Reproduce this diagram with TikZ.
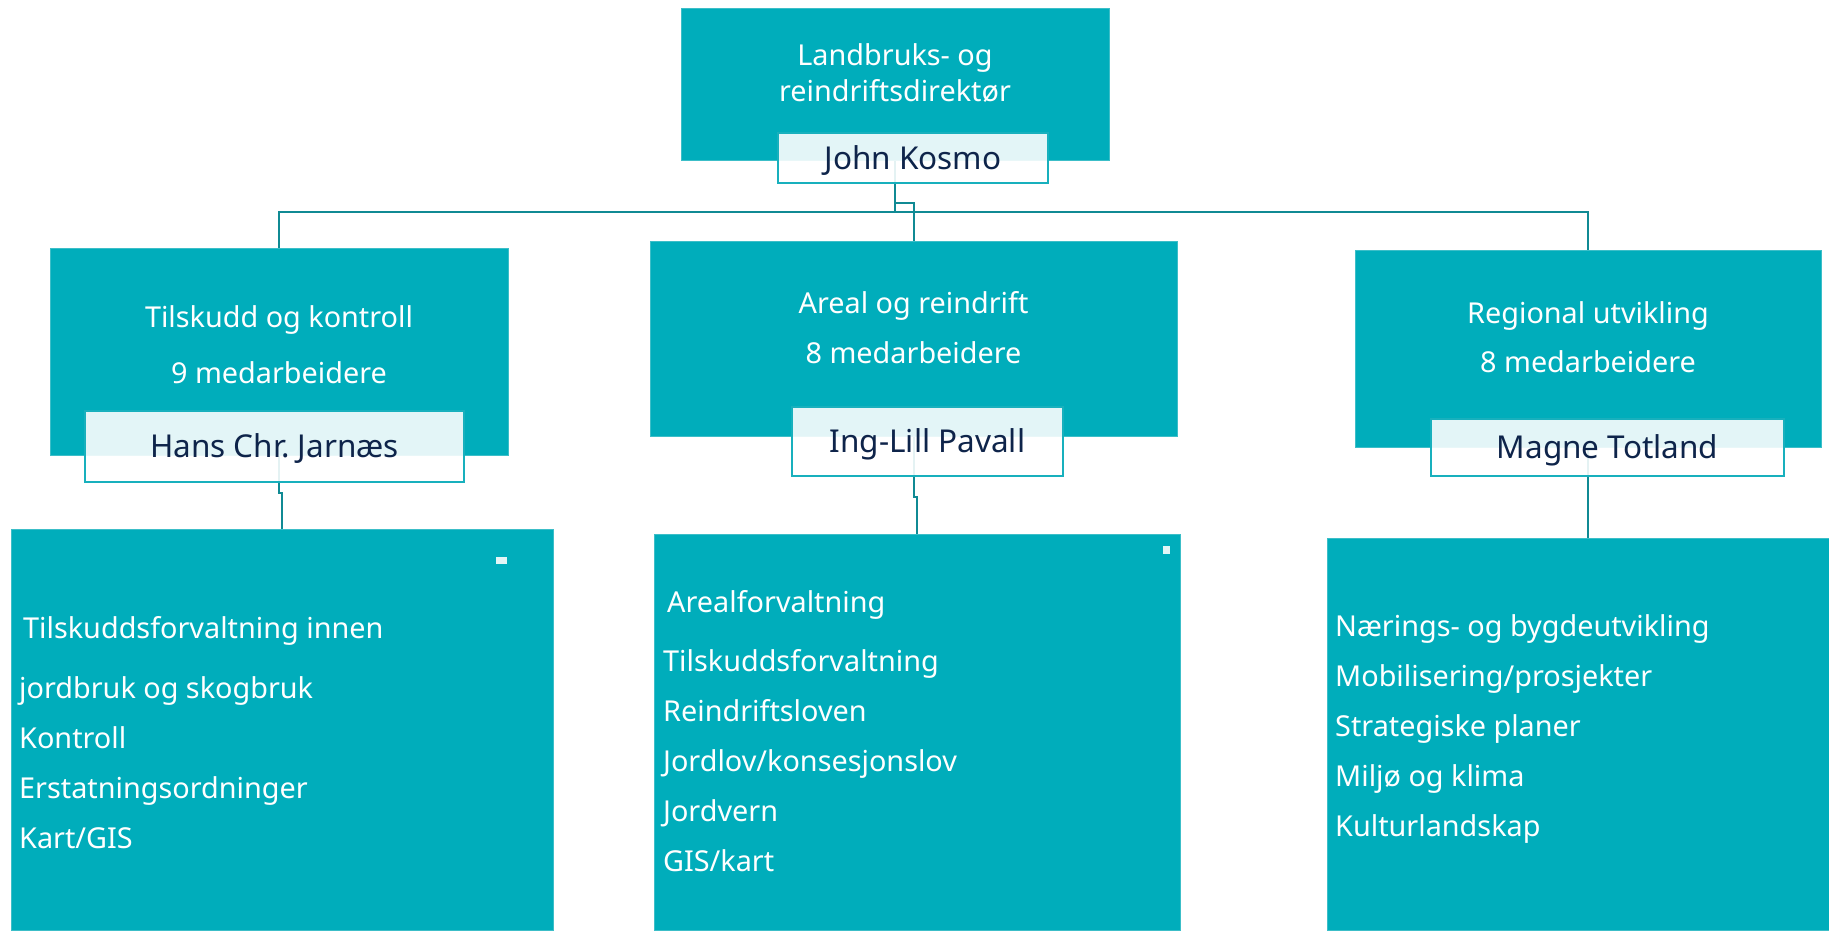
\documentclass[tikz,border=0pt]{standalone}
\usepackage{fontspec}
\setmainfont{Noto Sans}
\definecolor{boxteal}{RGB}{0, 173, 187}
\definecolor{edgeteal}{RGB}{60, 190, 200}
\definecolor{linkteal}{RGB}{16, 138, 148}
\definecolor{nameedge}{RGB}{24, 176, 189}
\definecolor{namenavy}{RGB}{14, 36, 74}
\definecolor{paleteal}{RGB}{227, 245, 246}
\usetikzlibrary{positioning, calc}

\begin{document}
\begin{tikzpicture}[x=1pt, y=-1pt,
  unit/.style={draw=edgeteal, line width=1pt, fill=boxteal, inner sep=0pt},
  title/.style={text=white, align=center, inner sep=0pt, anchor=base, font=\fontsize{28.8}{50}\selectfont},
  namebox/.style={draw=nameedge, line width=2pt, fill=white, fill opacity=0.89, text opacity=1, text=namenavy,
    inner sep=0pt, text height=22pt, text depth=0pt, font=\fontsize{31.5}{36}\selectfont},
  item/.style={text=white, align=left, inner sep=0pt, anchor=base west, font=\fontsize{28.8}{50}\selectfont},
  link/.style={draw=linkteal, line width=2pt}]
  \useasboundingbox (0, 0) rectangle (1829, 930);

  % Director (text nodes sit on their last baseline)
  \node[unit, minimum width=428pt, minimum height=152pt] (dir) at (895, 84) {};
  \node[title] (dirtxt) at (895, 101) {Landbruks- og\\[-14pt]reindriftsdirektør};

  % Sections
  \node[unit, minimum width=458pt, minimum height=207pt] (tilskudd) at (279, 351.5) {};
  \node[title] (tilskuddtxt) at (279, 383) {Tilskudd og kontroll\\[6pt]9 medarbeidere};
  \node[unit, minimum width=527pt, minimum height=195pt] (areal) at (913.5, 338.5) {};
  \node[title] (arealtxt) at (913.5, 363) {Areal og reindrift\\8 medarbeidere};
  \node[unit, minimum width=466pt, minimum height=197pt] (regional) at (1588, 348.5) {};
  \node[title] (regionaltxt) at (1588, 372) {Regional utvikling\\[-1pt]8 medarbeidere};

  % Task lists
  \node[unit, minimum width=541.5pt, minimum height=401pt] (tilskuddlist) at (282.25, 729.5) {};
  \node[item] (tilskudditems) at (19, 848) {\hspace*{4pt}Tilskuddsforvaltning innen\\[10pt]jordbruk og skogbruk\\Kontroll\\Erstatningsordninger\\Kart/GIS};
  \node[unit, minimum width=526pt, minimum height=396pt] (areallist) at (917, 732) {};
  \node[item] (arealitems) at (663, 871.7) {\hspace*{4pt}Arealforvaltning\\[9pt]Tilskuddsforvaltning\\Reindriftsloven\\Jordlov/konsesjonslov\\Jordvern\\GIS/kart};
  \node[unit, minimum width=502pt, minimum height=392pt] (regionallist) at (1578, 734) {};
  \node[item] (regionalitems) at (1335, 836) {Nærings- og bygdeutvikling\\Mobilisering/prosjekter\\Strategiske planer\\Miljø og klima\\Kulturlandskap};
  \node[fill=paleteal, inner sep=0pt, minimum width=11pt, minimum height=7pt] (markA) at (501.5, 560.5) {};
  \node[fill=paleteal, inner sep=0pt, minimum width=7pt, minimum height=8pt] (markB) at (1166.5, 550) {};

  % Connectors
  \coordinate (bus) at ([yshift=-51pt]dir.south);
  \coordinate (jog) at ([yshift=-42pt]dir.south);
  \draw[link] (dir.south) -- (bus);
  \draw[link] (bus) -| (tilskudd.north);
  \draw[link] (bus) -| (regional.north);
  \draw[link] (jog) -| (areal.north);
  \draw[link] (tilskudd.south) -- ++(0, 37) -| (tilskuddlist.north);
  \draw[link] (areal.south) -- ++(0, 60) -| (areallist.north);
  \draw[link] (regional.south) -- (regional.south |- regionallist.north);

  % Leaders
  \node[namebox, minimum width=270pt, minimum height=50pt] (kosmo) at (913, 158) {John Kosmo};
  \node[namebox, minimum width=379pt, minimum height=71pt] (jarnaes) at (274.5, 446.5) {Hans Chr.\ Jarnæs};
  \node[namebox, minimum width=271pt, minimum height=69pt] (pavall) at (927.5, 441.5) {Ing-Lill Pavall};
  \node[namebox, minimum width=353pt, minimum height=57pt] (totland) at (1607.5, 447.5) {Magne Totland};
\end{tikzpicture}
\end{document}
